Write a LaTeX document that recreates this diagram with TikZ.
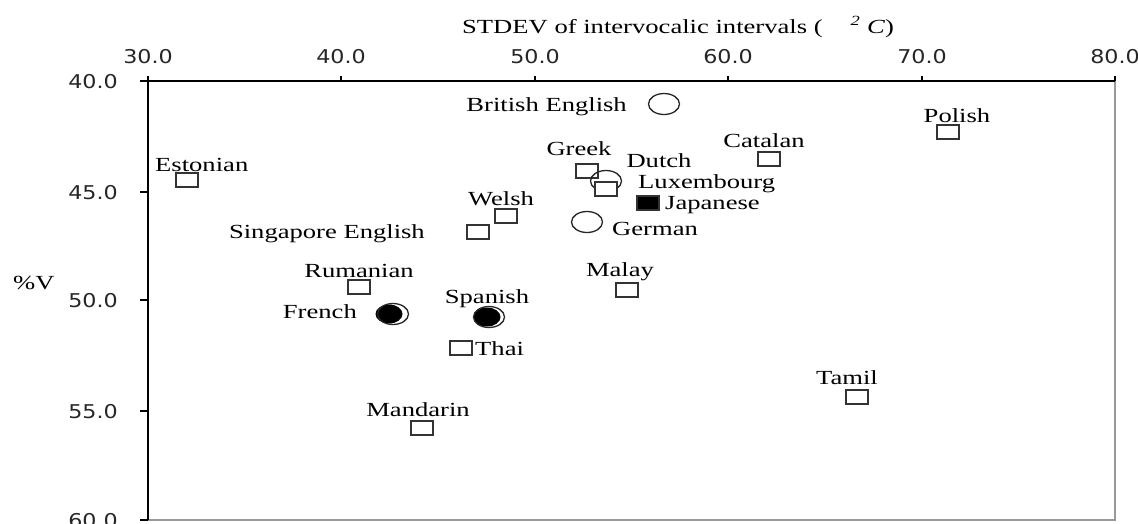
\documentclass[tikz,border=0pt]{standalone}
\usepackage{fontspec}
\setmainfont{Liberation Serif}[FakeStretch=1.33]
\newfontfamily\tickfont{DejaVu Sans}[FakeStretch=1.17]
\usetikzlibrary{shapes.geometric}

\begin{document}
\begin{tikzpicture}[x=1pt, y=-1pt,
  lang/.style={inner sep=0pt, font=\fontsize{20}{24}\selectfont},
  ticklbl/.style={inner sep=0pt, text=black!85, font=\tickfont\fontsize{19}{22}\selectfont},
  sq/.style={draw=black!80, line width=1.3pt, minimum width=22pt, minimum height=14pt, inner sep=0pt},
  fsq/.style={sq, fill=black},
  circ/.style={ellipse, draw=black!85, line width=1.3pt, minimum width=31pt, minimum height=21pt, inner sep=0pt},
  dot/.style={ellipse, fill=black, minimum width=27pt, minimum height=19pt, inner sep=0pt}]
  \useasboundingbox (0,0) rectangle (1138,523);
  % plot frame and axes
  \draw[black!40, line width=1.5pt] (148,520) -- (1115,520) -- (1115,81);
  \draw[line width=1.4pt] (148,76) -- (148,520);
  \draw[line width=1.4pt] (148,81) -- (1115,81);
  \foreach \v/\px in {30/148,40/341,50/535,60/728,70/922,80/1115} {
    \draw[line width=1.2pt] (\px,81) -- (\px,76);
    \node[ticklbl, anchor=base] (tx\v) at (\px,63) {\v.0};
  }
  \foreach \v/\py in {40/81,45/192,50/300,55/411,60/520} {
    \draw[line width=1.2pt] (148,\py) -- (140,\py);
    \node[ticklbl, anchor=base east] (ty\v) at (118,\py+7) {\v.0};
  }
  \node[lang, anchor=base west] (xtitle) at (462,33)
    {STDEV of intervocalic intervals (\hspace{28pt}\textsuperscript{\itshape 2} \textit{C})};
  \node[lang, anchor=base west] (ytitle) at (13,289) {\%V};

  % languages
  \node[circ] (brit) at (664,104) {};
  \node[lang, anchor=base east] (brit-l) at (627,111) {British English};
  \node[sq] (pol) at (948,132) {};
  \node[lang, anchor=base] (pol-l) at (957,122) {Polish};
  \node[sq] (cat) at (769,159) {};
  \node[lang, anchor=base] (cat-l) at (764,147) {Catalan};
  \node[sq] (gre) at (587,171) {};
  \node[lang, anchor=base] (gre-l) at (579,155) {Greek};
  \node[circ] (dut) at (606,181) {};
  \node[lang, anchor=base] (dut-l) at (659,167) {Dutch};
  \node[sq, fill=white] (lux) at (606,189) {};
  \node[lang, anchor=base west] (lux-l) at (638,188) {Luxembourg};
  \node[fsq] (jap) at (648,203) {};
  \node[lang, anchor=base west] (jap-l) at (665,209) {Japanese};
  \node[circ] (ger) at (587,222) {};
  \node[lang, anchor=base west] (ger-l) at (612,235) {German};
  \node[sq] (est) at (187,180) {};
  \node[lang, anchor=base west] (est-l) at (155,171) {Estonian};
  \node[sq] (wel) at (506,216) {};
  \node[lang, anchor=base] (wel-l) at (501,205) {Welsh};
  \node[sq] (sing) at (478,232) {};
  \node[lang, anchor=base east] (sing-l) at (425,238) {Singapore English};
  \node[sq] (rum) at (359,287) {};
  \node[lang, anchor=base] (rum-l) at (359,277) {Rumanian};
  \node[sq] (mal) at (627,290) {};
  \node[lang, anchor=base] (mal-l) at (620,276) {Malay};
  \node[dot] (fre-d) at (389,314) {};
  \node[circ] (fre) at (393,314) {};
  \node[lang, anchor=base east] (fre-l) at (357,318) {French};
  \node[dot] (spa-d) at (487,317) {};
  \node[circ] (spa) at (489,317) {};
  \node[lang, anchor=base] (spa-l) at (487,303) {Spanish};
  \node[sq] (tha) at (461,348) {};
  \node[lang, anchor=base west] (tha-l) at (475,355) {Thai};
  \node[sq] (tam) at (857,397) {};
  \node[lang, anchor=base] (tam-l) at (847,384) {Tamil};
  \node[sq] (man) at (422,428) {};
  \node[lang, anchor=base] (man-l) at (418,416) {Mandarin};
\end{tikzpicture}
\end{document}
